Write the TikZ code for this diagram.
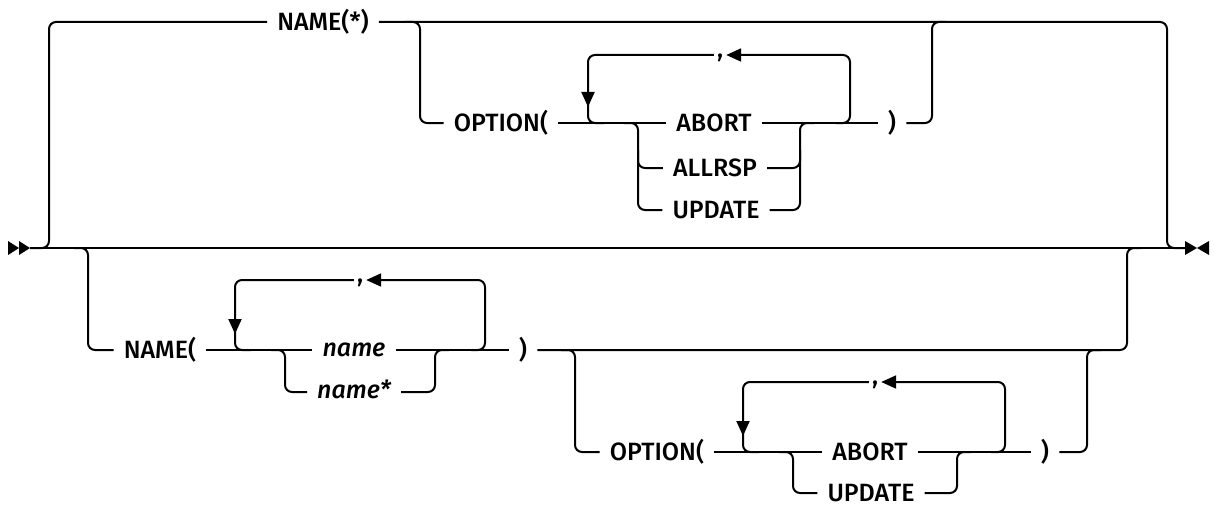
\documentclass[tikz,border=0pt]{standalone}
\usepackage{fontspec}
\setmainfont{Fira Sans}[UprightFont={Fira Sans Medium},ItalicFont={Fira Sans Medium Italic}]
\usetikzlibrary{arrows.meta}
\begin{document}
\begin{tikzpicture}[x=1pt,y=-1pt,
  rr/.style={line width=2pt, rounded corners=7pt},
  lbl/.style={inner xsep=10pt, inner ysep=0pt, text height=17pt, text depth=0pt,
    font=\fontsize{25}{29}\selectfont},
  varlbl/.style={lbl, text height=13.5pt, font=\fontsize{25}{29}\selectfont\itshape},
  commalbl/.style={lbl, inner xsep=3pt, text height=5pt},
  arrowend/.style={-{Triangle[length=15pt,width=13pt]}},
  endfill/.style={fill=black}
]
\useasboundingbox (0,0) rectangle (1214,508);
% main line
\coordinate (s) at (30,248);
\coordinate (e) at (1185,248);
\fill[endfill] (8,241) -- (19,248) -- (8,255) -- cycle;
\fill[endfill] (19,241) -- (30,248) -- (19,255) -- cycle;
\fill[endfill] (1185,241) -- (1197,248) -- (1185,255) -- cycle;
\fill[endfill] (1209,241) -- (1197,248) -- (1209,255) -- cycle;
\draw[rr] (s) -- (e);

% top branch
\node[lbl] (nstar) at (323,22) {NAME(*)};
\coordinate (tl) at (49,22);
\coordinate (tr) at (1167,22);
\draw[rr] (s) -| (tl) -- (nstar.west);
\draw[rr] (nstar.east) -- (tr) |- (e);

% top option branch
\coordinate (ob) at (405,22);
\coordinate (od) at (420,123);
\node[lbl] (opt1) at (501,123) {OPTION(};
\draw[rr] (ob) -| (od) -- (opt1.west);
\node[lbl] (ab1) at (714,123) {ABORT};
\node[lbl] (al1) at (715,168) {ALLRSP};
\node[lbl] (up1) at (716,210) {UPDATE};
\node[lbl] (cl1) at (892,123) {)};
\draw[rr] (opt1.east) -- (ab1.west);
\draw[rr] (ab1.east) -- (cl1.west);
% loop
\node[commalbl] (c1) at (720,55) {,};
\coordinate (l1r) at (850,55);
\coordinate (l1rb) at (836,123);
\coordinate (l1a) at (588,107);
\coordinate (l1b) at (588,100);
\coordinate (l1c) at (604,123);
\draw[rr,arrowend] (l1rb) -| (l1r) -- (c1.east);
\draw[rr,arrowend] (c1.west) -| (l1a);
\draw[rr] (l1b) |- (l1c);
% choice
\coordinate (ch1a) at (624,123);
\coordinate (ch1l) at (638,210);
\coordinate (ch1m) at (638,150);
\coordinate (ch1rt) at (800,123);
\coordinate (ch1re) at (814,123);
\coordinate (ch1rm) at (800,150);
\draw[rr] (ch1a) -| (ch1l) -- (up1.west);
\draw[rr] (ch1m) |- (al1.west);
\draw[rr] (up1.east) -| (ch1rt) -- (ch1re);
\draw[rr] (al1.east) -| (ch1rm);
% close up
\coordinate (cl1u) at (932,22);
\coordinate (cl1v) at (946,22);
\draw[rr] (cl1.east) -| (cl1u) -- (cl1v);

% lower branch
\coordinate (lb) at (74,248);
\coordinate (lbd) at (88,350);
\node[lbl] (nm) at (160,350) {NAME(};
\draw[rr] (lb) -| (lbd) -- (nm.west);
\node[varlbl] (v1) at (354,350) {name};
\node[varlbl] (v2) at (354,392) {name*};
\node[lbl] (cl2) at (523,350) {)};
\draw[rr] (nm.east) -- (v1.west);
\draw[rr] (v1.east) -- (cl2.west);
% loop
\node[commalbl] (c2) at (360,280) {,};
\coordinate (l2r) at (485,280);
\coordinate (l2rb) at (471,350);
\coordinate (l2a) at (235,334);
\coordinate (l2b) at (235,327);
\coordinate (l2c) at (251,350);
\draw[rr,arrowend] (l2rb) -| (l2r) -- (c2.east);
\draw[rr,arrowend] (c2.west) -| (l2a);
\draw[rr] (l2b) |- (l2c);
% choice
\coordinate (ch2a) at (271,350);
\coordinate (ch2l) at (285,392);
\coordinate (ch2rt) at (435,350);
\coordinate (ch2re) at (449,350);
\draw[rr] (ch2a) -| (ch2l) -- (v2.west);
\draw[rr] (v2.east) -| (ch2rt) -- (ch2re);
% rejoin main
\coordinate (cl2u) at (1127,248);
\coordinate (cl2v) at (1141,248);
\draw[rr] (cl2.east) -| (cl2u) -- (cl2v);

% lower option branch
\coordinate (ob2) at (561,350);
\coordinate (od2) at (575,452);
\node[lbl] (opt2) at (657,452) {OPTION(};
\draw[rr] (ob2) -| (od2) -- (opt2.west);
\node[lbl] (ab2) at (870,452) {ABORT};
\node[lbl] (up2) at (871,493) {UPDATE};
\node[lbl] (cl3) at (1045,452) {)};
\draw[rr] (opt2.east) -- (ab2.west);
\draw[rr] (ab2.east) -- (cl3.west);
% loop
\node[commalbl] (c3) at (875,382) {,};
\coordinate (l3r) at (1005,382);
\coordinate (l3rb) at (991,452);
\coordinate (l3a) at (743,436);
\coordinate (l3b) at (743,429);
\coordinate (l3c) at (759,452);
\draw[rr,arrowend] (l3rb) -| (l3r) -- (c3.east);
\draw[rr,arrowend] (c3.west) -| (l3a);
\draw[rr] (l3b) |- (l3c);
% choice
\coordinate (ch3a) at (779,452);
\coordinate (ch3l) at (793,493);
\coordinate (ch3rt) at (957,452);
\coordinate (ch3re) at (971,452);
\draw[rr] (ch3a) -| (ch3l) -- (up2.west);
\draw[rr] (up2.east) -| (ch3rt) -- (ch3re);
% close up
\coordinate (cl3u) at (1087,350);
\coordinate (cl3v) at (1101,350);
\draw[rr] (cl3.east) -| (cl3u) -- (cl3v);
\end{tikzpicture}
\end{document}
